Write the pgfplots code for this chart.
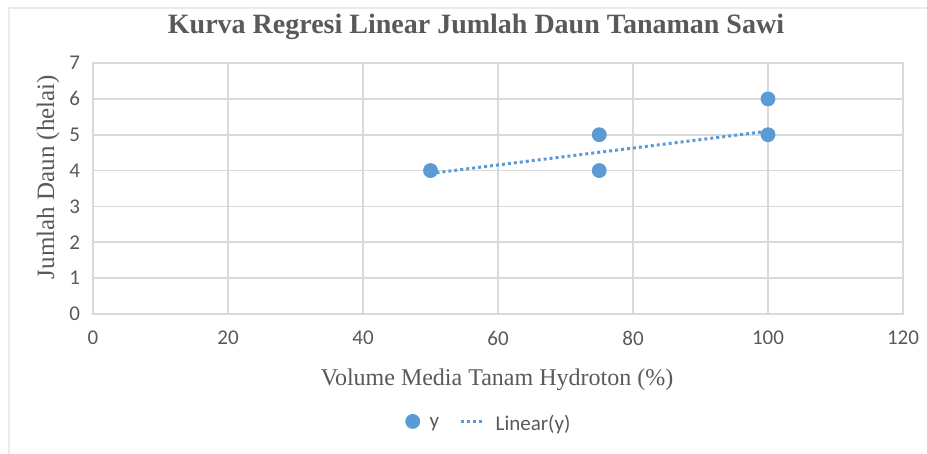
\documentclass[border=0pt]{standalone}
\usepackage{fontspec}
\setmainfont{Liberation Serif}
\newfontfamily\calibri{Carlito}
\usepackage{pgfplots}
\pgfplotsset{compat=1.18}
\definecolor{ptblue}{HTML}{5B9BD5}
\definecolor{gridgray}{HTML}{D9D9D9}
\definecolor{txtgray}{HTML}{595959}
\begin{document}
\begin{tikzpicture}[x=0.5pt,y=0.5pt]
\path[use as bounding box] (0,0) rectangle (927,454);
\draw[color=black!8, line width=1pt] (9,0) -- (9,446) -- (927,446);
\begin{axis}[
  at={(46.5pt,70pt)}, anchor=south west,
  scale only axis, width=405pt, height=125.5pt,
  xmin=0, xmax=120, ymin=0, ymax=7,
  xtick={0,20,...,120}, ytick={0,1,...,7},
  grid=major, major grid style={gridgray, line width=0.8pt},
  axis line style={gridgray, line width=0.8pt},
  tick style={draw=none},
  ticklabel style={font=\calibri\fontsize{10.5}{12}\selectfont, text=txtgray},
  /pgf/number format/assume math mode=true,
  xticklabel style={yshift=-5pt},
  yticklabel style={xshift=-3pt},
  legend style={at={(0.49,-0.44)}, anchor=center, draw=none, legend columns=2,
    font=\calibri\fontsize{10.5}{12}\selectfont, text=txtgray,
    /tikz/every odd column/.append style={column sep=0pt},
    /tikz/every even column/.append style={column sep=8pt}},
  legend cell align=left,
]
\addplot[only marks, mark=*, mark size=3.5pt, mark options={fill=ptblue, draw=ptblue},
  legend image code/.code={\fill[ptblue] (0.2cm,1.5pt) circle[radius=3.5pt]; \path (0.42cm,0pt);}] coordinates {
  (50,4) (75,5) (75,4) (100,6) (100,5)
};
\addlegendentry{y}
\addplot[ptblue, line width=1.5pt, dash pattern=on 1.5pt off 1.5pt, no marks,
  legend image code/.code={\draw[ptblue, line width=1.5pt, dash pattern=on 1.5pt off 1.5pt] (0cm,1.5pt) -- (0.42cm,1.5pt); \path (0.52cm,1.5pt);}] coordinates {
  (50,3.92) (100,5.1)
};
\addlegendentry{Linear(y)}
\end{axis}
\node[font=\bfseries\fontsize{14}{16}\selectfont, text=txtgray] at (476,427) {Kurva Regresi Linear Jumlah Daun Tanaman Sawi};
\node[font=\fontsize{12.5}{14}\selectfont, text=txtgray, rotate=90] at (48,277) {Jumlah Daun (helai)};
\node[font=\fontsize{12}{14}\selectfont, text=txtgray] at (497,74) {Volume Media Tanam Hydroton (\%)};
\end{tikzpicture}
\end{document}
